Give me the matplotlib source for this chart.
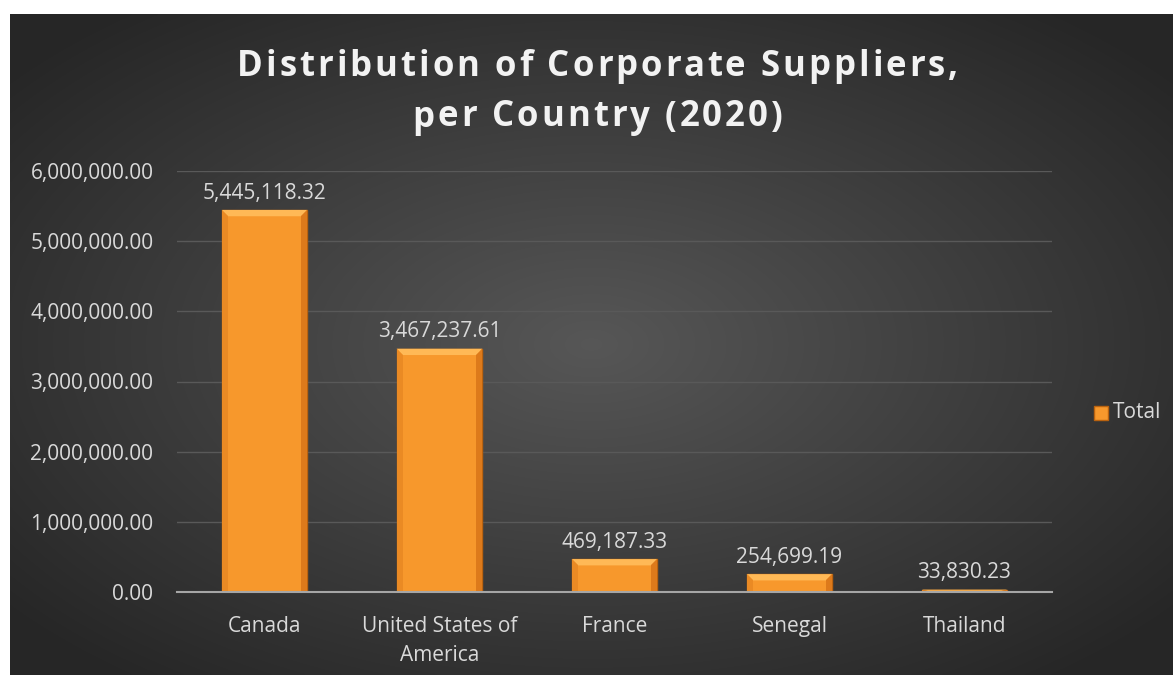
import numpy as np
import matplotlib.pyplot as plt
from matplotlib.patches import Rectangle, Polygon
from matplotlib.font_manager import FontProperties

countries = ["Canada", "United States of\nAmerica", "France", "Senegal", "Thailand"]
totals = [5445118.32, 3467237.61, 469187.33, 254699.19, 33830.23]
yticks = [0, 1000000, 2000000, 3000000, 4000000, 5000000, 6000000]
title_lines = ["Distribution of Corporate Suppliers,", "per Country (2020)"]

W, H = 1173, 675
fig = plt.figure(figsize=(W / 100, H / 100), dpi=100)
fig.patch.set_facecolor("white")

# dark radial background (chart area starts at x=10, y=14)
bg = fig.add_axes([10 / W, 0, 1 - 10 / W, 1 - 14 / H])
bg.set_axis_off()
yy, xx = np.mgrid[0:1:300j, 0:1:500j]
r = np.sqrt(((xx - 0.5) / 0.75) ** 2 + ((yy - 0.5) / 0.75) ** 2)
shade = np.clip(0.34 - 0.22 * r, 0.15, 0.34)
bg.imshow(np.dstack([shade] * 3), aspect="auto", extent=[0, 1, 0, 1], interpolation="bilinear")
bg.set_xlim(0, 1)
bg.set_ylim(0, 1)

ax = fig.add_axes([177 / W, (H - 592) / H, (1052 - 177) / W, (592 - 171) / H])
ax.patch.set_alpha(0)
x = np.arange(len(countries))
bw = 0.49
bars = ax.bar(x, totals, width=bw, color="#F7982C", edgecolor="#B9620F", linewidth=1.0, zorder=3)

# simple bevel on each bar
for b in bars:
    x0, y0, w, h = b.get_x(), b.get_y(), b.get_width(), b.get_height()
    dx = w * 0.07
    dy = min(h * 0.5, 90000)
    ax.add_patch(Polygon([[x0, y0 + h], [x0 + w, y0 + h], [x0 + w - dx, y0 + h - dy], [x0 + dx, y0 + h - dy]],
                         closed=True, facecolor="#FFB956", edgecolor="none", zorder=4))
    ax.add_patch(Polygon([[x0 + w, y0 + h], [x0 + w, y0], [x0 + w - dx, y0], [x0 + w - dx, y0 + h - dy]],
                         closed=True, facecolor="#DD7A1B", edgecolor="none", zorder=4))
    ax.add_patch(Polygon([[x0, y0 + h], [x0, y0], [x0 + dx, y0], [x0 + dx, y0 + h - dy]],
                         closed=True, facecolor="#EA8A24", edgecolor="none", zorder=4))

for xi, v in zip(x, totals):
    ax.text(xi, v + 90000, f"{v:,.2f}", ha="center", va="bottom", color="#D9D9D9",
            fontsize=15, family="Open Sans", zorder=5)

ax.set_xlim(-0.5, len(countries) - 0.5)
ax.set_ylim(0, 6000000)
ax.set_yticks(yticks)
ax.set_yticklabels([f"{t:,.2f}" for t in yticks])
ax.set_xticks(x)
ax.set_xticklabels(countries, linespacing=1.5)
ax.tick_params(length=0, colors="#D9D9D9", labelsize=15)
ax.tick_params(axis="y", pad=17)
ax.tick_params(axis="x", pad=17)
for lab in ax.get_xticklabels() + ax.get_yticklabels():
    lab.set_family("Open Sans")
ax.grid(axis="y", color="#595959", linewidth=1, zorder=0)
for s in ["top", "right", "left"]:
    ax.spines[s].set_visible(False)
ax.spines["bottom"].set_color("#A6A6A6")
ax.spines["bottom"].set_linewidth(1.5)
ax.spines["bottom"].set_zorder(6)

# legend
fig.patches.append(Rectangle((1094 / W, (H - 420) / H), 14 / W, 14 / H, transform=fig.transFigure,
                             facecolor="#F7982C", edgecolor="#B9620F", linewidth=1))
fig.text(1113 / W, (H - 413) / H, "Total", color="#D9D9D9", fontsize=15, family="Open Sans",
         ha="left", va="center")

# title with wide letter spacing, drawn char by char
fp = FontProperties(family="Open Sans", weight="bold", size=25)
renderer = fig.canvas.get_renderer()
spacing = 3.0  # px between letters
for line, yc in zip(title_lines, [62, 113]):
    widths = [renderer.get_text_width_height_descent(line[:i], fp, ismath=False)[0] for i in range(len(line) + 1)]
    total_w = widths[-1] + spacing * (len(line) - 1)
    x_start = (W + 22) / 2 - total_w / 2
    for i, ch in enumerate(line):
        if ch == " ":
            continue
        fig.text((x_start + widths[i] + spacing * i) / W, (H - yc) / H, ch, fontproperties=fp,
                 color="#F2F2F2", ha="left", va="center_baseline")

fig.savefig("out.png", dpi=100, facecolor=fig.get_facecolor())
